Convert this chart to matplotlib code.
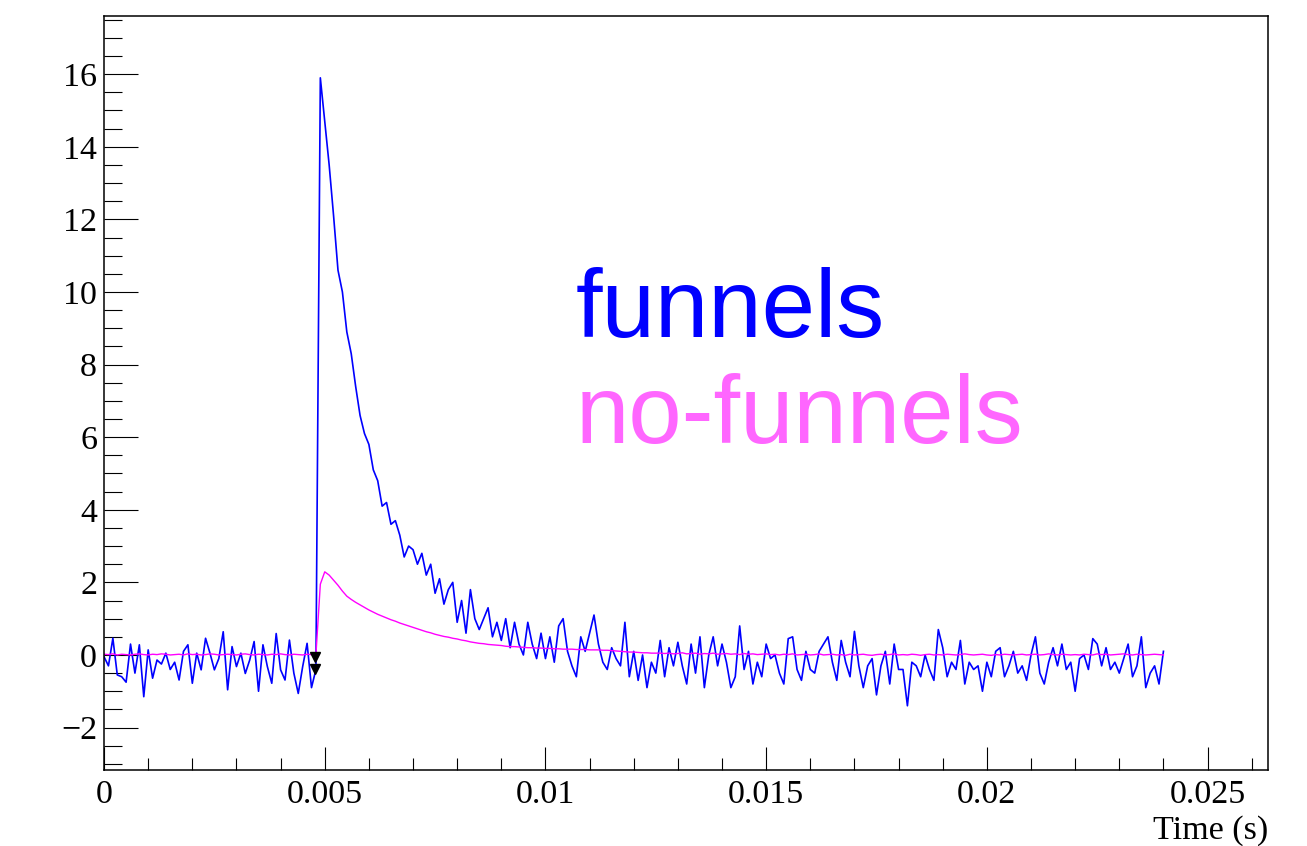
import matplotlib.pyplot as plt
import numpy as np
from matplotlib.ticker import MultipleLocator, FuncFormatter

plt.rcParams['font.family'] = ['Liberation Serif', 'DejaVu Serif']

# time grid (s), one reading every 0.1 ms
time = np.round(np.arange(241) * 1e-4, 4)

# signal with funnels (blue)
funnels = [
    -0.05, -0.30, 0.46, -0.55, -0.60, -0.75, 0.30, -0.50, 0.28, -1.15,
    0.14, -0.64, -0.14, -0.25, 0.05, -0.40, -0.20, -0.69, 0.10, 0.28,
    -0.78, 0.05, -0.41, 0.46, 0.05, -0.41, -0.10, 0.64, -0.96, 0.23,
    -0.32, 0.05, -0.51, -0.14, 0.37, -1.00, 0.28, -0.32, -0.78, 0.59,
    -0.41, -0.69, 0.41, -0.50, -1.06, -0.32, 0.32, -0.90,
    -0.40, 15.90, 14.70, 13.50, 12.10, 10.60, 10.00, 8.90, 8.30, 7.40,
    6.60, 6.10, 5.80, 5.10, 4.80, 4.10, 4.20, 3.60, 3.70, 3.30,
    2.70, 3.00, 2.90, 2.50, 2.80, 2.20, 2.50, 1.70,
    2.1, 1.4, 1.8, 2.0, 0.9, 1.5, 0.6, 1.8, 1.0, 0.7,
    1.0, 1.3, 0.5, 0.9, 0.4, 1.0, 0.2, 0.9, 0.3, 0.0,
    0.9, 0.3, -0.1, 0.6, -0.1, 0.5, -0.2, 0.8, 1.0, 0.1,
    -0.3, -0.6, 0.5, 0.1, 0.6, 1.1, 0.3, -0.2, -0.4, 0.2,
    -0.1, -0.3, 0.9, -0.6, 0.1, -0.7, 0.0, -0.9,
    -0.2, -0.5, 0.4, -0.6, 0.2, -0.3, 0.35, -0.3, -0.8, 0.3,
    -0.5, 0.5, -0.9, 0.0, 0.5, -0.3, 0.3, -0.2, -0.9, -0.6,
    0.8, -0.4, 0.1, -0.8, -0.2, -0.6, 0.3, -0.1, 0.0, -0.5,
    -0.8, 0.45, 0.5, -0.4, -0.7, 0.1, -0.4, -0.5, 0.1, 0.3,
    0.5, -0.2, -0.7, 0.4, -0.2, -0.6, 0.65, -0.3, -0.9, -0.3,
    -0.1, -1.1, -0.3, 0.1, -0.8, 0.3, -0.4,
    -0.4, -1.4, -0.2, -0.3, -0.6, 0.0, -0.4, -0.7, 0.7, 0.2,
    -0.6, -0.2, -0.4, 0.4, -0.8, -0.2, -0.4, -0.3, -1.0, -0.2,
    -0.6, 0.1, 0.2, -0.6, -0.3, 0.1, -0.5, -0.3, -0.7, 0.0,
    0.5, -0.5, -0.8, -0.2, 0.2, -0.3, 0.3, -0.4, -0.2, -1.0,
    -0.1, 0.0, -0.4, 0.45, 0.3, -0.3, 0.2, -0.4, -0.2, -0.5,
    -0.1, 0.3, -0.6, -0.3, 0.5, -0.9, -0.5, -0.3, -0.8, 0.1,
]

# signal without funnels (magenta)
no_funnels = [
    0.02, 0.01, 0.03, 0.00, 0.02, 0.01, 0.00, 0.02, 0.03, 0.01,
    0.00, 0.02, 0.01, 0.03, 0.02, 0.00, 0.01, 0.02, 0.00, 0.03,
    0.01, 0.02, 0.00, 0.01, 0.03, 0.02, 0.00, 0.01, 0.02, 0.01,
    0.00, 0.02, 0.03, 0.01, 0.00, 0.02, 0.01, 0.00, 0.02, 0.01,
    0.03, 0.01, 0.00, 0.02, 0.01, 0.00, 0.02, 0.01,
    0.00,
    1.95, 2.29, 2.20, 2.06, 1.92, 1.76, 1.62, 1.53, 1.45, 1.38,
    1.31, 1.24, 1.18, 1.12, 1.07, 1.02, 0.97, 0.93, 0.88, 0.84,
    0.80, 0.76, 0.72, 0.68, 0.64, 0.61, 0.57, 0.54, 0.51, 0.49,
    0.46, 0.44, 0.41, 0.39, 0.36, 0.34, 0.32, 0.31, 0.29, 0.28,
    0.27, 0.26, 0.24, 0.23, 0.23, 0.22, 0.21, 0.20, 0.20, 0.19,
    0.19, 0.18,
    0.18, 0.17, 0.17, 0.16, 0.16, 0.16, 0.15, 0.15, 0.15, 0.14,
    0.14, 0.14, 0.13, 0.13, 0.12, 0.11, 0.10, 0.09, 0.08, 0.08,
    0.07, 0.06, 0.06, 0.05, 0.05, 0.05, 0.04, 0.05, 0.03, 0.04,
    0.06, 0.03, 0.04, 0.05, 0.02, 0.04, 0.03, 0.05, 0.02, 0.03,
    0.04, 0.02, 0.03, 0.01, 0.04, 0.02, 0.03, 0.01, 0.02, 0.03,
    0.01, 0.02, 0.00, 0.02, 0.01, 0.03, 0.00, 0.01, 0.02, 0.00,
    0.01, 0.03, 0.00, 0.01, 0.02, 0.00, 0.01, -0.01, 0.02, 0.00,
    0.01, 0.02, 0.00, -0.01, 0.01, 0.02, 0.00, 0.01, 0.03, 0.00,
    0.01, 0.00, 0.02, 0.01, -0.01, 0.01, 0.02, 0.00, 0.01, 0.00,
    0.02, 0.01, 0.00, 0.01, 0.03, 0.01, 0.00, 0.01, 0.02, 0.00,
    -0.01, 0.01, 0.00, 0.02, 0.01, 0.00, 0.01, 0.02, 0.00, 0.01,
    0.02, 0.00, 0.01, 0.03, 0.01, 0.00, 0.02, 0.01, 0.00, 0.01,
    0.00, 0.02, 0.01, 0.00, 0.03, 0.01, 0.02, 0.00, 0.01, 0.02,
    0.03, 0.01, 0.00, 0.02, 0.01, 0.00, 0.01, 0.02, 0.01, 0.00,
]

# trigger markers
trig_t = [0.00478, 0.00478]
trig_v = [-0.05, -0.38]

fig = plt.figure(figsize=(13.07, 8.46), dpi=100)
ax = fig.add_axes([0.0796, 0.0898, 0.8906, 0.8916])

ax.plot(time, funnels, color='#0000ff', lw=1.2)
ax.plot(time, no_funnels, color='#ff00ff', lw=1.0)
ax.plot(trig_t, trig_v, 'v', color='black', markersize=7)

ax.set_xlim(0, 0.02637)
ax.set_ylim(-3.17, 17.61)

ax.xaxis.set_major_locator(MultipleLocator(0.005))
ax.xaxis.set_minor_locator(MultipleLocator(0.001))
ax.yaxis.set_major_locator(MultipleLocator(2))
ax.yaxis.set_minor_locator(MultipleLocator(0.5))
fmt = FuncFormatter(lambda v, p: f"{v:g}".replace('-', '\u2212'))
ax.xaxis.set_major_formatter(fmt)
ax.yaxis.set_major_formatter(fmt)

ax.tick_params(which='both', direction='in', top=False, right=False,
               width=0.8, labelsize=24.5, colors='black')
ax.tick_params(axis='x', which='major', length=16.8, pad=7)
ax.tick_params(axis='x', which='minor', length=8.4)
ax.tick_params(axis='y', which='major', length=24.5, pad=5)
ax.tick_params(axis='y', which='minor', length=12.7)
for s in ax.spines.values():
    s.set_linewidth(1.1)

fig.text(0.9702, 0.0083, "Time (s)", ha='right', va='baseline', fontsize=24.5)

ax.text(0.4055, 0.5744, "funnels", transform=ax.transAxes, color='#0000ff',
        fontsize=69, family='Liberation Sans', va='baseline')
ax.text(0.4055, 0.4335, "no-funnels", transform=ax.transAxes, color='#ff66ff',
        fontsize=69, family='Liberation Sans', va='baseline')

plt.savefig("out.png", dpi=100)
